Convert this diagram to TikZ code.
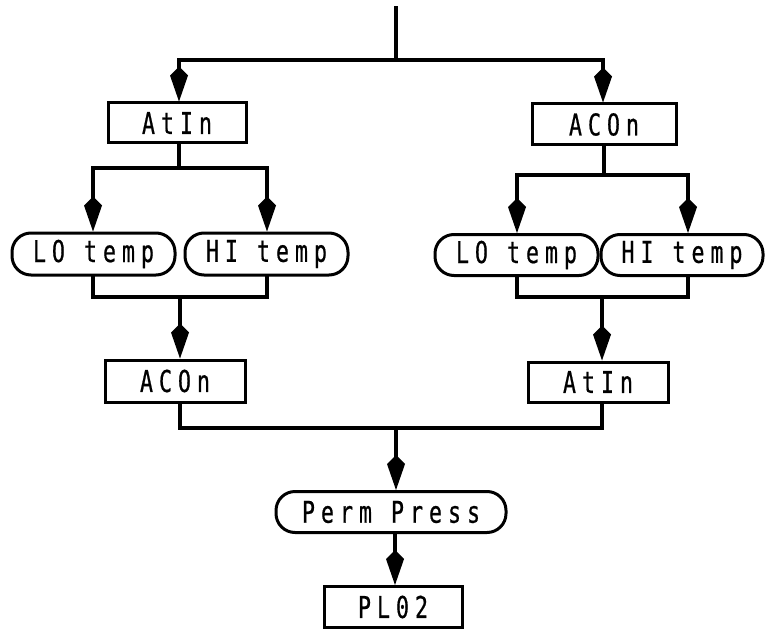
\documentclass[tikz,border=0pt]{standalone}
\usepackage{fontspec}
\newfontfamily\boxfont{DejaVu Sans Mono}[FakeStretch=0.72,LetterSpace=20,FakeBold=0.6]
\usetikzlibrary{arrows.meta}
\tikzset{
  ln/.style={line width=3.4pt, line cap=rect, line join=miter},
  arr/.style={line width=3.4pt, -{Kite[length=35pt,width=18pt,inset=9pt]}},
  lbl/.style={draw, line width=3pt, inner sep=0pt, font=\boxfont\fontsize{30}{32}\selectfont, anchor=center},
  sqbox/.style={lbl, rectangle},
  rndbox/.style={lbl, rectangle, rounded corners=19pt},
}
\begin{document}
\begin{tikzpicture}[x=1pt,y=-1pt]
\useasboundingbox (0,0) rectangle (767,631);
% nodes
\node[sqbox, minimum width=138pt, minimum height=40pt] (atinL) at (177,123) {AtIn};
\node[sqbox, minimum width=144pt, minimum height=41pt] (aconR) at (604,124.5) {ACOn};
\node[rndbox, minimum width=163pt, minimum height=42pt] (loL) at (93.5,254) {LO temp};
\node[rndbox, minimum width=163pt, minimum height=42pt] (hiL) at (266.5,254) {HI temp};
\node[rndbox, minimum width=163pt, minimum height=41pt] (loR) at (516.5,255) {LO temp};
\node[rndbox, minimum width=162pt, minimum height=41pt] (hiR) at (682,255) {HI temp};
\node[sqbox, minimum width=140pt, minimum height=42pt] (aconL) at (175,381) {ACOn};
\node[sqbox, minimum width=140pt, minimum height=40pt] (atinR) at (598,382) {AtIn};
\node[rndbox, minimum width=230pt, minimum height=41pt] (perm) at (391,512) {Perm Press};
\node[sqbox, minimum width=138pt, minimum height=41pt] (pl) at (393,607) {PL02};
% top
\coordinate (t0) at (396,8);
\coordinate (t1) at (396,60);
\coordinate (tl) at (179,60);
\coordinate (tr) at (603,60);
\draw[ln] (t0) -- (t1);
\draw[ln] (tl) -- (tr);
\draw[arr] (tl) -- (tl |- atinL.north);
\draw[arr] (tr) -- (tr |- aconR.north);
% left subtree
\coordinate (l1) at (179,168);
\coordinate (l1a) at (93,168);
\coordinate (l1b) at (267,168);
\draw[ln] (atinL.south -| l1) -- (l1);
\draw[ln] (l1a) -- (l1b);
\draw[arr] (l1a) -- (l1a |- loL.north);
\draw[arr] (l1b) -- (l1b |- hiL.north);
\coordinate (l2a) at (93,297);
\coordinate (l2b) at (267,297);
\coordinate (l2) at (180,297);
\draw[ln] (l1a |- loL.south) -- (l2a) -- (l2b) -- (l2b |- hiL.south);
\draw[arr] (l2) -- (l2 |- aconL.north);
\coordinate (l3) at (180,428);
\draw[ln] (aconL.south -| l3) -- (l3);
% right subtree
\coordinate (r1) at (604,175);
\coordinate (r1a) at (517,175);
\coordinate (r1b) at (688,175);
\draw[ln] (aconR.south -| r1) -- (r1);
\draw[ln] (r1a) -- (r1b);
\draw[arr] (r1a) -- (r1a |- loR.north);
\draw[arr] (r1b) -- (r1b |- hiR.north);
\coordinate (r2a) at (517,297);
\coordinate (r2b) at (688,297);
\coordinate (r2) at (602,297);
\draw[ln] (r1a |- loR.south) -- (r2a) -- (r2b) -- (r2b |- hiR.south);
\draw[arr] (r2) -- (r2 |- atinR.north);
\coordinate (r3) at (602,428);
\draw[ln] (atinR.south -| r3) -- (r3);
% bottom
\draw[ln] (l3) -- (r3);
\coordinate (b0) at (396,428);
\coordinate (b1) at (395,512);
\draw[arr] (b0) -- (b0 |- perm.north);
\draw[arr] (perm.south -| b1) -- (b1 |- pl.north);
\end{tikzpicture}
\end{document}
